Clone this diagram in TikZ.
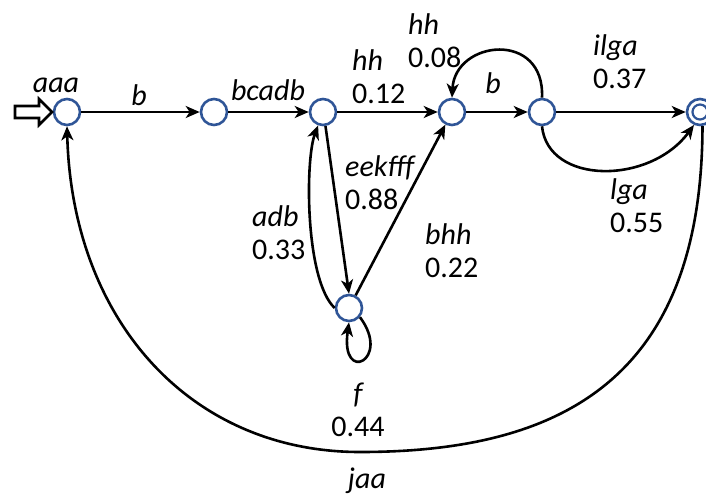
\documentclass[tikz,border=0pt]{standalone}
\usepackage{fontspec}
\setmainfont{Carlito}
\usetikzlibrary{arrows.meta}
\definecolor{nodeblue}{HTML}{2F5597}
\begin{document}
\begin{tikzpicture}[x=1pt,y=-1pt,
  state/.style={circle,draw=nodeblue,line width=2.6pt,fill=white,minimum size=26pt,inner sep=0pt},
  edge/.style={line width=2.6pt,-{Stealth[length=14pt,width=12pt,inset=4pt]}},
  lbl/.style={font=\fontsize{30}{33}\selectfont,align=left,inner sep=0pt},
]
\useasboundingbox (0,0) rectangle (706,496);
% states
\node[state] (n1) at (67,112) {};
\node[state] (n2) at (214,112) {};
\node[state] (n3) at (323,112) {};
\node[state] (n4) at (452,112) {};
\node[state] (n5) at (542,112) {};
\node[state] (n6) at (700,112) {};
\draw[nodeblue,line width=2.2pt] (n6.center) circle (7.5pt);
\node[state] (n7) at (349,308) {};
% start arrow
\draw[line width=2.6pt,fill=white,line join=miter]
  (15,106) -- (39,106) -- (39,99) -- (52,112) -- (39,125) -- (39,118) -- (15,118) -- cycle;
% straight edges
\draw[edge] (n1) -- (n2);
\draw[edge] (n2) -- (n3);
\draw[edge] (n3) -- (n4);
\draw[edge] (n4) -- (n5);
\draw[edge] (n5) -- (n6);
\draw[edge] (n3.-80) -- (n7.north);
\draw[edge] (n7) -- (n4);
% curved edges
\draw[edge] (n5.north) .. controls (545,30) and (455,40) .. (n4.north);
\draw[edge] (n5.south) .. controls (548,185) and (650,185) .. (n6.-115);
\draw[edge] (n7.180) .. controls (305,280) and (305,160) .. (n3.-110);
\draw[edge] (n7.-40) .. controls (392,360) and (340,385) .. (n7.south);
\coordinate (bot) at (360,452);
\draw[edge] (n6.-80) .. controls (702,380) and (560,452) .. (bot)
  .. controls (190,452) and (72,320) .. (n1.south);
% labels
\node[lbl] at (56,85) {\itshape aaa};
\node[lbl] at (139,95) {\itshape b};
\node[lbl] at (268,90) {\itshape bcadb};
\node[lbl,anchor=north west] at (352,49) {\itshape hh\\0.12};
\node[lbl,anchor=north west] at (408,13) {\itshape hh\\0.08};
\node[lbl] at (493,83) {\itshape b};
\node[lbl,anchor=north west] at (593,34) {\itshape ilga\\0.37};
\node[lbl,anchor=north west] at (610,178) {\itshape lga\\0.55};
\node[lbl,anchor=north west] at (345,155) {\itshape eekfff\\0.88};
\node[lbl,anchor=north west] at (252,205) {\itshape adb\\0.33};
\node[lbl,anchor=north west] at (425,223) {\itshape bhh\\0.22};
\node[lbl,align=center,anchor=north] at (358,383) {\itshape f\\0.44};
\node[lbl] at (367,481) {\itshape jaa};
\end{tikzpicture}
\end{document}
